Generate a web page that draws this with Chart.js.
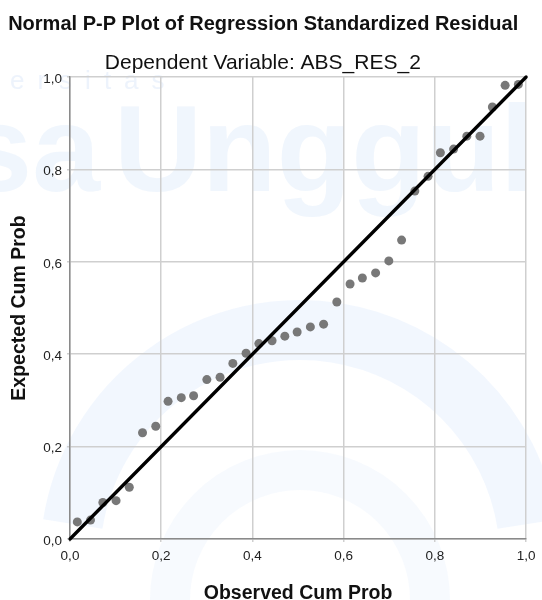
<!DOCTYPE html>
<html>
<head>
<meta charset="utf-8">
<script src="https://cdn.jsdelivr.net/npm/chart.js@4.4.1/dist/chart.umd.min.js"></script>
<style>
  html, body { margin: 0; padding: 0; background: #ffffff; }
  #wrap { width: 542px; height: 600px; position: relative; }
</style>
</head>
<body>
<div id="wrap"><canvas id="c" width="542" height="600"></canvas></div>
<script>
// ---- data ----
const chartTitle = 'Normal P-P Plot of Regression Standardized Residual';
const chartSubtitle = 'Dependent Variable: ABS_RES_2';
const xAxisTitle = 'Observed Cum Prob';
const yAxisTitle = 'Expected Cum Prob';

const observedCumProb = [0.016, 0.045, 0.072, 0.101, 0.130, 0.159, 0.188, 0.215, 0.244, 0.271,
  0.300, 0.329, 0.357, 0.386, 0.414, 0.443, 0.471, 0.498, 0.527, 0.556,
  0.585, 0.614, 0.641, 0.670, 0.699, 0.727, 0.756, 0.785, 0.812, 0.841,
  0.870, 0.899, 0.926, 0.954, 0.983];
const expectedCumProb = [0.037, 0.041, 0.079, 0.083, 0.112, 0.230, 0.244, 0.298, 0.306, 0.310,
  0.345, 0.350, 0.380, 0.402, 0.423, 0.429, 0.439, 0.448, 0.459, 0.465,
  0.513, 0.552, 0.565, 0.576, 0.602, 0.647, 0.753, 0.785, 0.836, 0.844,
  0.872, 0.872, 0.935, 0.982, 0.984];
const refLineX = [0, 1];
const refLineY = [0, 1];
const tickValues = [0, 0.2, 0.4, 0.6, 0.8, 1.0];
const tickLabels = ['0,0', '0,2', '0,4', '0,6', '0,8', '1,0'];

// ---- build datasets ----
const points = observedCumProb.map((x, i) => ({ x: x, y: expectedCumProb[i] }));
const linePts = refLineX.map((x, i) => ({ x: x, y: refLineY[i] }));

function tickLabel(v) {
  for (let i = 0; i < tickValues.length; i++) {
    if (Math.abs(v - tickValues[i]) < 1e-6) return tickLabels[i];
  }
  return '';
}

const FONT = "'Liberation Sans', Arial, Helvetica, sans-serif";

const watermark = {
  id: 'watermark',
  beforeDraw(chart) {
    const ctx = chart.ctx;
    ctx.save();
    ctx.fillStyle = '#ffffff';
    ctx.fillRect(0, 0, chart.width, chart.height);
    // faint circular shapes
    ctx.strokeStyle = 'rgba(222,234,252,0.38)';
    ctx.lineWidth = 60;
    ctx.beginPath();
    ctx.arc(300, 560, 230, Math.PI * 1.05, Math.PI * 1.95);
    ctx.stroke();
    ctx.strokeStyle = 'rgba(228,238,252,0.3)';
    ctx.lineWidth = 40;
    ctx.beginPath();
    ctx.arc(300, 600, 130, Math.PI * 1.0, Math.PI * 2.0);
    ctx.stroke();
    // faint text
    ctx.fillStyle = 'rgba(226,237,252,0.5)';
    ctx.font = 'bold 122px ' + FONT;
    ctx.textBaseline = 'alphabetic';
    ctx.textAlign = 'left';
    ctx.fillText('Unggul', 114, 191);
    ctx.textAlign = 'right';
    ctx.fillText('sa', 100, 191);
    ctx.font = '26px ' + FONT;
    ctx.textAlign = 'left';
    try { ctx.letterSpacing = '13px'; } catch (e) {}
    ctx.fillStyle = 'rgba(220,232,250,0.5)';
    ctx.fillText('ersitas', 10, 89);
    ctx.restore();
  }
};

new Chart(document.getElementById('c'), {
  type: 'scatter',
  data: {
    datasets: [
      {
        type: 'line',
        label: 'Reference',
        data: linePts,
        borderColor: '#000000',
        borderWidth: 3.3,
        pointRadius: 0,
        fill: false,
        borderCapStyle: 'round',
        clip: 4
      },
      {
        type: 'scatter',
        label: 'Residual',
        data: points,
        backgroundColor: 'rgb(120,120,120)',
        borderWidth: 0,
        pointRadius: 4.5,
        pointHoverRadius: 4.5
      }
    ]
  },
  options: {
    responsive: false,
    animation: false,
    devicePixelRatio: 1,
    layout: { padding: 0 },
    plugins: {
      legend: { display: false },
      tooltip: { enabled: false },
      title: {
        display: true,
        text: chartTitle + '\u2002 ',
        color: '#111111',
        font: { family: FONT, size: 20, weight: 'bold', lineHeight: 1.2 },
        padding: { top: 12.5, bottom: 13.5 }
      },
      subtitle: {
        display: true,
        text: chartSubtitle + '\u2002 ',
        color: '#111111',
        font: { family: FONT, size: 21, weight: 'normal', lineHeight: 1.2 },
        padding: { top: 0.5, bottom: 1.3 }
      }
    },
    scales: {
      x: {
        type: 'linear',
        min: 0,
        max: 1,
        afterFit(s) { s.height = 61; },
        afterBuildTicks(s) { s.ticks = tickValues.map(v => ({ value: v })); },
        ticks: {
          callback: (v) => tickLabel(v),
          color: '#222222',
          font: { family: FONT, size: 13.5 },
          padding: 6.5,
          maxRotation: 0
        },
        grid: { color: '#cfcfcf', lineWidth: 1.5, drawTicks: true, tickLength: 3 },
        border: { color: '#8a8a8a', width: 1.5 },
        title: {
          display: true,
          text: xAxisTitle,
          color: '#111111',
          font: { family: FONT, size: 19.5, weight: 'bold', lineHeight: 1 },
          padding: { top: 0, bottom: -3 }
        }
      },
      y: {
        type: 'linear',
        min: 0,
        max: 1,
        afterFit(s) { s.width = 70; },
        afterBuildTicks(s) { s.ticks = tickValues.map(v => ({ value: v })); },
        ticks: {
          callback: (v) => tickLabel(v),
          color: '#222222',
          font: { family: FONT, size: 13.5 },
          padding: 5,
          labelOffset: 2
        },
        grid: { color: '#cfcfcf', lineWidth: 1.5, drawTicks: true, tickLength: 3 },
        border: { color: '#8a8a8a', width: 1.5 },
        title: {
          display: true,
          text: yAxisTitle,
          color: '#111111',
          font: { family: FONT, size: 19.5, weight: 'bold', lineHeight: 1 },
          padding: { top: 9.5, bottom: 0 }
        }
      }
    }
  },
  plugins: [watermark]
});
</script>
</body>
</html>
